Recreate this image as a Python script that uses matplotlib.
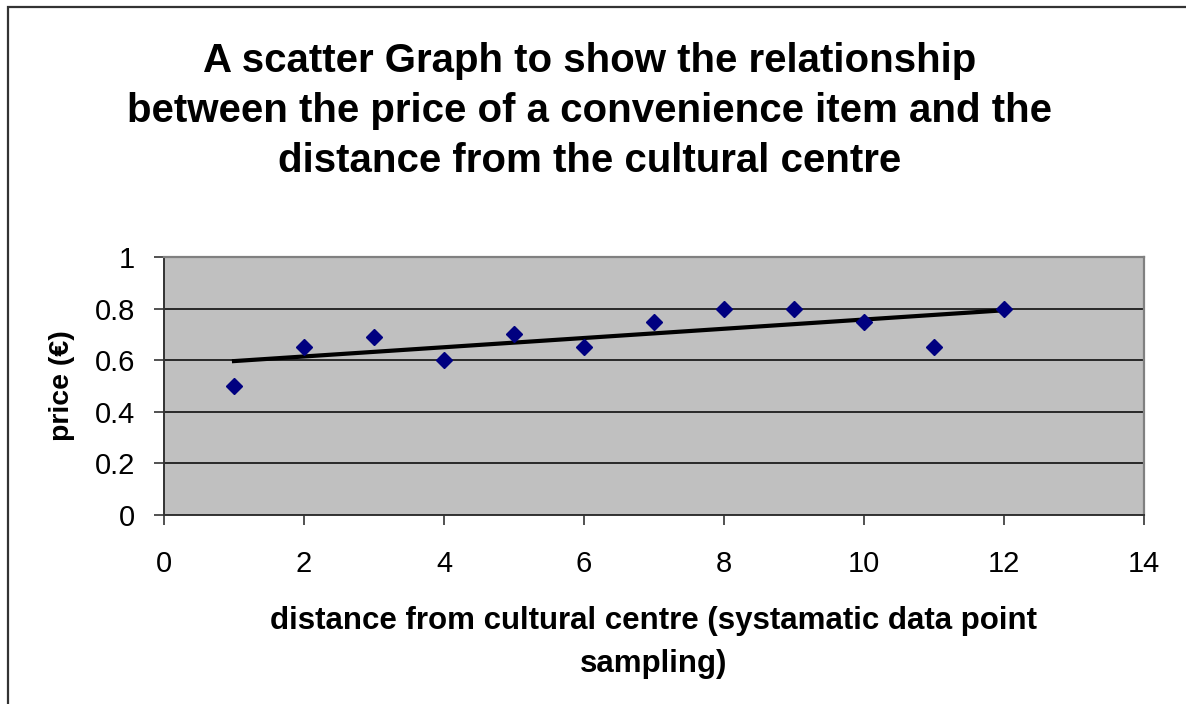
import numpy as np
import matplotlib.pyplot as plt
from matplotlib.patches import Rectangle

# distância (amostragem sistemática) e preço do item
distancia = [1, 2, 3, 4, 5, 6, 7, 8, 9, 10, 11, 12]
preco = [0.50, 0.65, 0.69, 0.60, 0.70, 0.65, 0.75, 0.80, 0.80, 0.75, 0.65, 0.80]

x_ticks = [0, 2, 4, 6, 8, 10, 12, 14]
y_ticks = [0, 0.2, 0.4, 0.6, 0.8, 1]
y_labels = ['0', '0.2', '0.4', '0.6', '0.8', '1']

plt.rcParams['font.family'] = ['Liberation Sans', 'DejaVu Sans']

fig = plt.figure(figsize=(11.86, 7.04), dpi=100)

# moldura do gráfico (lado direito e de baixo ficam fora da imagem)
fig.patches.append(Rectangle((8 / 1186, -0.1), 1.2, 1 - 7 / 704 + 0.1,
                             transform=fig.transFigure, fill=False,
                             edgecolor='#333333', linewidth=1.6))

ax = fig.add_axes([164 / 1186, 1 - 515 / 704, 980 / 1186, 258 / 704])
ax.set_facecolor('#C0C0C0')

ax.set_xlim(0, 14)
ax.set_ylim(0, 1)
ax.set_xticks(x_ticks)
ax.set_yticks(y_ticks)
ax.set_yticklabels(y_labels)
ax.grid(axis='y', color='black', linewidth=1.1)
ax.set_axisbelow(True)

# linha de tendência linear
coef = np.polyfit(distancia, preco, 1)
xs = np.array([distancia[0], distancia[-1]])
ax.plot(xs, np.polyval(coef, xs), color='black', linewidth=3.0, zorder=3)

ax.plot(distancia, preco, linestyle='none', marker='D', markersize=7.8,
        color='#000080', zorder=4)

for lado in ['left', 'bottom']:
    ax.spines[lado].set_color('#333333')
    ax.spines[lado].set_linewidth(1.4)
for lado in ['top', 'right']:
    ax.spines[lado].set_color('#808080')
    ax.spines[lado].set_linewidth(1.6)

ax.tick_params(axis='both', direction='out', length=7, width=1.2,
               color='#333333', labelsize=21)
ax.tick_params(axis='x', pad=18)
ax.tick_params(axis='y', pad=14)

ax.set_ylabel('price (€)', fontsize=20.5, fontweight='bold', labelpad=14)
ax.set_xlabel('distance from cultural centre (systamatic data point\nsampling)',
              fontsize=22.5, fontweight='bold', labelpad=20, linespacing=1.6)

fig.text(0.497, 1 - 111 / 704,
         'A scatter Graph to show the relationship\n'
         'between the price of a convenience item and the\n'
         'distance from the cultural centre',
         ha='center', va='center', fontsize=29, fontweight='bold',
         linespacing=1.39)

fig.savefig('out.png', dpi=100)
